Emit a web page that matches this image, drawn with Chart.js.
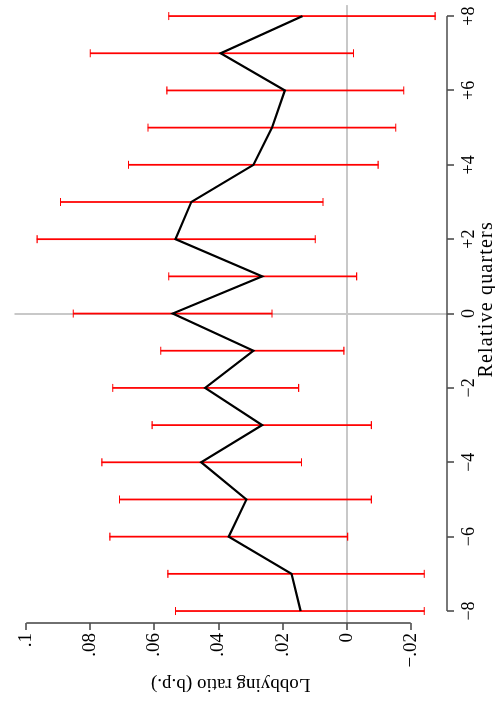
<!DOCTYPE html>
<html>
<head>
<meta charset="utf-8">
<script src="https://cdn.jsdelivr.net/npm/chart.js@4/dist/chart.umd.min.js"></script>
<style>
  html, body { margin: 0; padding: 0; background: #fff; overflow: hidden; }
  #wrap { position: relative; width: 495px; height: 703px; }
  /* chart is drawn landscape, then turned a quarter to the left */
  #chart { position: absolute; left: 0; top: 0; transform-origin: 0 0;
           transform: translate(0, 703px) rotate(-90deg); }
</style>
</head>
<body>
<div id="wrap"><canvas id="chart" width="703" height="495"></canvas></div>
<script>
const quarters = [-8, -7, -6, -5, -4, -3, -2, -1, 0, 1, 2, 3, 4, 5, 6, 7, 8];
const estimate = [0.0144, 0.0172, 0.0368, 0.0313, 0.0454, 0.0264, 0.0442, 0.0291, 0.0543,
                  0.0264, 0.0534, 0.0485, 0.0291, 0.0233, 0.0193, 0.0393, 0.0138];
const lower = [-0.0242, -0.0242, -0.0003, -0.0077, 0.0141, -0.0077, 0.0150, 0.0009, 0.0233,
               -0.0031, 0.0098, 0.0074, -0.0098, -0.0153, -0.0178, -0.0021, -0.0276];
const upper = [0.0534, 0.0558, 0.0739, 0.0709, 0.0764, 0.0607, 0.0730, 0.0580, 0.0853,
               0.0555, 0.0966, 0.0893, 0.0681, 0.0620, 0.0561, 0.0800, 0.0555];
const xTicks = [-8, -6, -4, -2, 0, 2, 4, 6, 8];
const xTickLabels = ['\u22128', '\u22126', '\u22124', '\u22122', '0', '+2', '+4', '+6', '+8'];
const yTicks = [-0.02, 0, 0.02, 0.04, 0.06, 0.08, 0.1];
const yTickLabels = ['\u2212.02', '0', '.02', '.04', '.06', '.08', '.1'];
const xTitle = 'Relative quarters';

const FONT = 'Liberation Serif';
const AXIS_COLOR = '#4d4d4d';
const REF_COLOR = '#c8c8c8';

// axis lines only run between the first and last tick, Stata style;
// the x title is drawn here too so it can sit a little off centre like the original
const axisLines = {
    id: 'axisLines',
    afterDraw(chart) {
        const { ctx, scales: { x, y } } = chart;
        ctx.save();
        ctx.strokeStyle = AXIS_COLOR;
        ctx.lineWidth = 1.6;
        ctx.beginPath();
        ctx.moveTo(x.getPixelForValue(xTicks[0]), x.top);
        ctx.lineTo(x.getPixelForValue(xTicks[xTicks.length - 1]), x.top);
        ctx.moveTo(y.right, y.getPixelForValue(yTicks[0]));
        ctx.lineTo(y.right, y.getPixelForValue(yTicks[yTicks.length - 1]));
        ctx.stroke();

        ctx.fillStyle = '#000';
        ctx.font = '20px "' + FONT + '"';
        if ('letterSpacing' in ctx) ctx.letterSpacing = '1.2px';
        ctx.textAlign = 'left';
        ctx.textBaseline = 'alphabetic';
        ctx.fillText(xTitle, x.getPixelForValue(-1.72), x.bottom - 3);
        ctx.restore();
    }
};

const refColor = ctx => (ctx.tick && ctx.tick.value === 0 ? REF_COLOR : 'rgba(0,0,0,0)');

new Chart(document.getElementById('chart'), {
    type: 'line',
    data: {
        datasets: [
            {
                type: 'line',
                data: quarters.map((q, i) => ({ x: q, y: estimate[i] })),
                borderColor: '#000',
                borderWidth: 2.2,
                pointRadius: 0,
                tension: 0,
                order: 0
            },
            {
                type: 'bar',
                data: quarters.map((q, i) => ({ x: q, y: [lower[i], upper[i]] })),
                backgroundColor: '#ff0000',
                borderWidth: 0,
                barThickness: 1.1,
                grouped: false,
                order: 2
            },
            {
                type: 'scatter',
                data: quarters.map((q, i) => ({ x: q, y: lower[i] }))
                    .concat(quarters.map((q, i) => ({ x: q, y: upper[i] }))),
                pointStyle: 'line',
                pointRadius: 4,
                borderColor: '#ff0000',
                borderWidth: 1.1,
                order: 1
            }
        ]
    },
    options: {
        responsive: false,
        animation: false,
        devicePixelRatio: 1,
        layout: { padding: { top: 7, right: 4, left: 0, bottom: 0 } },
        plugins: { legend: { display: false }, tooltip: { enabled: false } },
        scales: {
            x: {
                type: 'linear',
                position: 'bottom',
                offset: false,
                min: -8.322,
                max: 8.295,
                afterBuildTicks: s => { s.ticks = xTicks.map(v => ({ value: v })); },
                afterFit: s => { s.height = 48; },
                border: { display: false },
                grid: { offset: false, color: refColor, lineWidth: 2, drawTicks: true, tickLength: 7,
                        tickColor: AXIS_COLOR, tickWidth: 1.6 },
                ticks: {
                    autoSkip: false, maxRotation: 0, padding: 4, color: '#000',
                    font: { family: FONT, size: 18 },
                    callback: v => xTickLabels[xTicks.indexOf(v)]
                },
                title: { display: false }
            },
            y: {
                type: 'linear',
                position: 'left',
                min: -0.03129,
                max: 0.10368,
                afterBuildTicks: s => { s.ticks = yTicks.map(v => ({ value: v })); },
                afterFit: s => { s.width = 80; },
                border: { display: false },
                grid: { color: refColor, lineWidth: 2, drawTicks: true, tickLength: 7,
                        tickColor: AXIS_COLOR, tickWidth: 1.6 },
                ticks: {
                    autoSkip: false, padding: 3, color: '#000',
                    font: { family: FONT, size: 19 },
                    callback: v => yTickLabels[yTicks.indexOf(v)]
                },
                title: {
                    display: true, text: 'Lobbying ratio (b.p.)', color: '#000',
                    font: { family: FONT, size: 19 }, padding: { top: 8, bottom: 0 }
                }
            }
        }
    },
    plugins: [axisLines]
});
</script>
</body>
</html>
